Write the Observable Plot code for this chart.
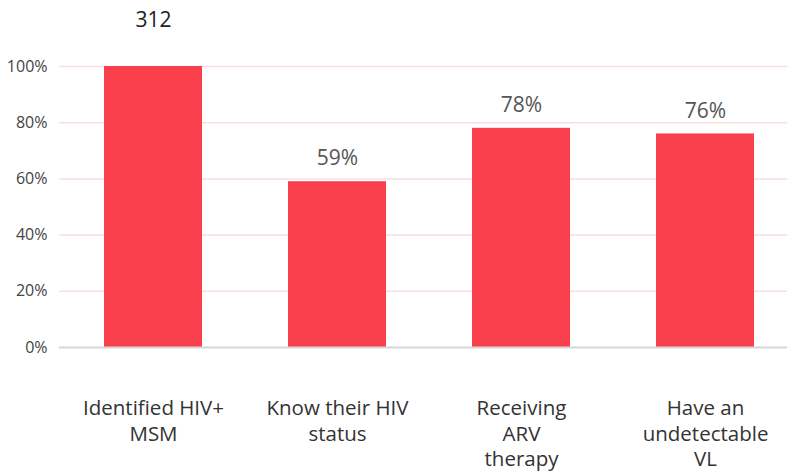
<!DOCTYPE html>
<html>
<head>
<meta charset="utf-8">
<script src="https://cdn.jsdelivr.net/npm/d3@7"></script>
<script src="https://cdn.jsdelivr.net/npm/@observablehq/plot@0.6"></script>
<style>
  body { margin: 0; background: #fff; }
  #chart svg { display: block; }
</style>
</head>
<body>
<div id="chart"></div>
<script>
const categories = ["Identified HIV+ MSM", "Know their HIV status", "Receiving ARV therapy", "Have an undetectable VL"];
const tickLabels = ["Identified HIV+\nMSM", "Know their HIV\nstatus", "Receiving\nARV\ntherapy", "Have an\nundetectable\nVL"];
const values = [100, 59, 78, 76];
const valueLabels = ["312", "59%", "78%", "76%"];
const yTicks = [0, 20, 40, 60, 80, 100];

const data = categories.map((c, i) => ({cat: c, value: values[i], label: valueLabels[i], tick: tickLabels[i]}));
const pctData = data.slice(1);
const topData = data.slice(0, 1);

const font = "'Open Sans', sans-serif";

const chart = Plot.plot({
  width: 787,
  height: 473,
  marginLeft: 59,
  marginRight: 0,
  marginTop: 66,
  marginBottom: 126,
  style: { fontFamily: font, background: "#fff" },
  x: { domain: categories, range: [59, 798], paddingInner: 0.468, paddingOuter: 0.239, label: null },
  y: { domain: [0, 100], label: null },
  marks: [
    Plot.gridY(yTicks, { stroke: "#fbdde0", strokeOpacity: 1, strokeWidth: 1.5 }),
    Plot.barY(data, { x: "cat", y: "value", fill: "#f93e4c" }),
    Plot.ruleY([0], { stroke: "#d8d8d8", strokeWidth: 2 }),
    Plot.axisY(yTicks, { tickSize: 0, tickPadding: 12, tickFormat: d => d + "%", fontSize: 16, fill: "#444" }),
    Plot.axisX({ tickSize: 0, tickPadding: 49, tickFormat: d => tickLabels[categories.indexOf(d)], fontSize: 20.5, lineHeight: 1.26, fill: "#333" }),
    Plot.text(pctData, { x: "cat", y: "value", text: "label", dy: -23, fontSize: 21, fill: "#555" }),
    Plot.text(topData, { x: "cat", y: "value", text: "label", dy: -46, fontSize: 21, fill: "#222" })
  ]
});
document.getElementById("chart").appendChild(chart);
</script>
</body>
</html>
